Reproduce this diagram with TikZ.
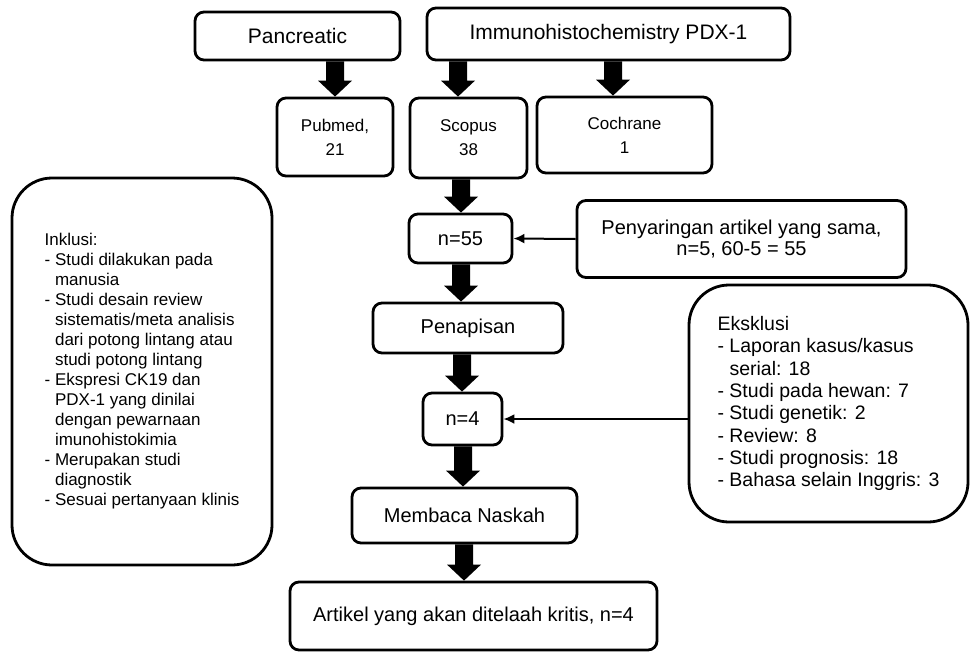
\documentclass[tikz,border=0pt]{standalone}
\usepackage{fontspec}
\setmainfont{Liberation Sans}
\usetikzlibrary{arrows.meta,calc}
\newcommand{\blkarrow}[3]{%
  \fill let \p1=(#2.south), \p2=(#3.north) in
    (#1pt-9pt,\y1) -- (#1pt+9pt,\y1) -- (#1pt+9pt,\y2+16pt) -- (#1pt+17pt,\y2+16pt)
    -- (#1pt,\y2) -- (#1pt-17pt,\y2+16pt) -- (#1pt-9pt,\y2+16pt) -- cycle;}
\begin{document}
\begin{tikzpicture}[x=1pt,y=-1pt,
  box/.style={draw, line width=2.8pt, rounded corners=9pt, inner sep=0pt, align=center},
  bigbox/.style={draw, line width=2.8pt, rounded corners=40pt, inner sep=0pt, align=left},
  thinarrow/.style={line width=2pt, -{Latex[length=11pt,width=10pt]}},
  ftop/.style={font=\fontsize{21}{25}\selectfont},
  fmain/.style={font=\fontsize{20}{21}\selectfont},
  fsrc/.style={font=\fontsize{17}{24}\selectfont},
]
\useasboundingbox (0,0) rectangle (973,656);

\node[box, ftop, minimum width=205, minimum height=48] (pan) at (297.5,36) {Pancreatic};
\node[box, ftop, minimum width=363, minimum height=52] (imm) at (608.5,34) {Immunohistochemistry PDX-1};

\node[box, fsrc, minimum width=116, minimum height=78] (pub) at (335,137) {Pubmed,\\21};
\node[box, fsrc, minimum width=117, minimum height=80] (sc) at (468.5,138) {Scopus\\38};
\node[box, fsrc, minimum width=175, minimum height=76] (co) at (624.5,135) {Cochrane\\1};

\node[box, fmain, minimum width=103, minimum height=49] (n55) at (460.5,238.5) {n=55};
\node[box, fmain, minimum width=329, minimum height=77] (pen) at (741.5,239) {Penyaringan artikel yang sama,\\n=5, 60-5 = 55};
\node[box, fmain, minimum width=190, minimum height=50] (pnp) at (468,328) {Penapisan};
\node[box, fmain, minimum width=79, minimum height=52] (n4) at (462.5,419) {n=4};
\node[box, fmain, minimum width=225, minimum height=55] (mem) at (464.5,515.5) {Membaca Naskah};
\node[box, fmain, minimum width=367, minimum height=68] (art) at (473.5,616) {Artikel yang akan ditelaah kritis, n=4};

\node[bigbox, font=\fontsize{17}{20}\selectfont, minimum width=260, minimum height=387] (ink) at (142,371.5)
  {Inklusi:\\
   - Studi dilakukan pada\\
   \phantom{- }manusia\\
   - Studi desain review\\
   \phantom{- }sistematis/meta analisis\\
   \phantom{- }dari potong lintang atau\\
   \phantom{- }studi potong lintang\\
   - Ekspresi CK19 dan\\
   \phantom{- }PDX-1 yang dinilai\\
   \phantom{- }dengan pewarnaan\\
   \phantom{- }imunohistokimia\\
   - Merupakan studi\\
   \phantom{- }diagnostik\\
   - Sesuai pertanyaan klinis};

\node[bigbox, font=\fontsize{19.5}{22.3}\selectfont, minimum width=279, minimum height=237] (eks) at (828.5,403.5)
  {Eksklusi\\
   - Laporan kasus/kasus\\
   \phantom{- }serial: 18\\
   - Studi pada hewan: 7\\
   - Studi genetik: 2\\
   - Review: 8\\
   - Studi prognosis: 18\\
   - Bahasa selain Inggris: 3};

\blkarrow{335}{pan}{pub}
\blkarrow{458}{imm}{sc}
\blkarrow{613}{imm}{co}
\blkarrow{461}{sc}{n55}
\blkarrow{461}{n55}{pnp}
\blkarrow{462}{pnp}{n4}
\blkarrow{463}{n4}{mem}
\blkarrow{464}{mem}{art}

\draw[thinarrow] (pen.west) -- (n55.east);
\draw[thinarrow] (eks.west |- n4.east) -- (n4.east);
\end{tikzpicture}
\end{document}
